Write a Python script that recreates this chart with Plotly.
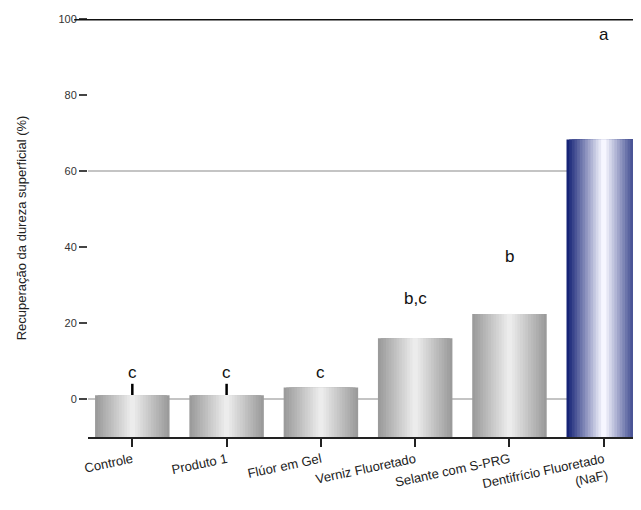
import plotly.graph_objects as go

categories = ["Controle", "Produto 1", "Flúor em Gel", "Verniz Fluoretado",
              "Selante com S-PRG", "Dentifrício Fluoretado<br>(NaF)"]
values = [1.0, 1.0, 3.0, 16.0, 22.4, 68.3]
errors = [3.0, 3.0, 0.0, 0.0, 0.0, 0.0]
letters = ["c", "c", "c", "b,c", "b", "a"]
letter_y = [7.0, 7.0, 7.0, 26.5, 37.5, 96.0]
is_highlight = [False, False, False, False, False, True]
y_ticks = [0, 20, 40, 60, 80, 100]
y_floor = -10

gray_edge, gray_mid = (155, 155, 155), (236, 236, 236)
blue_edge, blue_mid = (22, 36, 118), (246, 246, 255)


def mix(a, b, t):
    return "rgb(%d,%d,%d)" % tuple(round(a[i] + (b[i] - a[i]) * t) for i in range(3))


fig = go.Figure()
N = 14
for k in range(N):
    t = k / (N - 1)
    w = 0.79 * (1 - k / N)
    cols = [mix(blue_edge, blue_mid, t) if h else mix(gray_edge, gray_mid, t) for h in is_highlight]
    kw = {}
    if k == 0:
        kw["error_y"] = dict(type="data", array=errors, arrayminus=[0] * len(errors),
                             symmetric=False, color="black", thickness=2.5, width=0)
    fig.add_trace(go.Bar(x=categories, y=[v - y_floor for v in values], base=y_floor,
                         width=w, marker=dict(color=cols, line=dict(width=0)),
                         showlegend=False, hoverinfo="skip", **kw))

for c, l, ly in zip(categories, letters, letter_y):
    fig.add_annotation(x=c, y=ly, text=l, showarrow=False,
                       font=dict(family="Liberation Sans, Arial", size=17, color="#111"))

fig.add_shape(type="line", xref="paper", yref="y", x0=-0.025, x1=1, y0=100, y1=100,
              line=dict(color="#111", width=3))
for g in [0, 60]:
    fig.add_shape(type="line", xref="paper", yref="y", x0=0, x1=1, y0=g, y1=g,
                  line=dict(color="#c4c4c4", width=2), layer="below")

fig.update_layout(
    width=633, height=488, barmode="overlay",
    margin=dict(l=80, r=0, t=11, b=59, autoexpand=False),
    plot_bgcolor="white", paper_bgcolor="white",
    font=dict(family="Liberation Sans, Arial", color="#222"),
    xaxis=dict(range=[-0.47, 5.395], showline=True, linecolor="#222", linewidth=2,
               automargin=False,
               ticks="outside", ticklen=8, tickwidth=2, tickcolor="#222",
               tickangle=-12, tickfont=dict(size=13, color="#222"), showgrid=False),
    yaxis=dict(range=[-10, 100], tickvals=y_ticks, showgrid=False, zeroline=False,
               automargin=False,
               ticks="outside", ticklen=8, tickwidth=2, tickcolor="#444",
               tickfont=dict(size=11, color="#333"), showline=False,
               title=dict(text="Recuperação da dureza superficial (%)",
                          font=dict(size=13, color="#222"), standoff=28)),
)

fig.write_html("out.html")
